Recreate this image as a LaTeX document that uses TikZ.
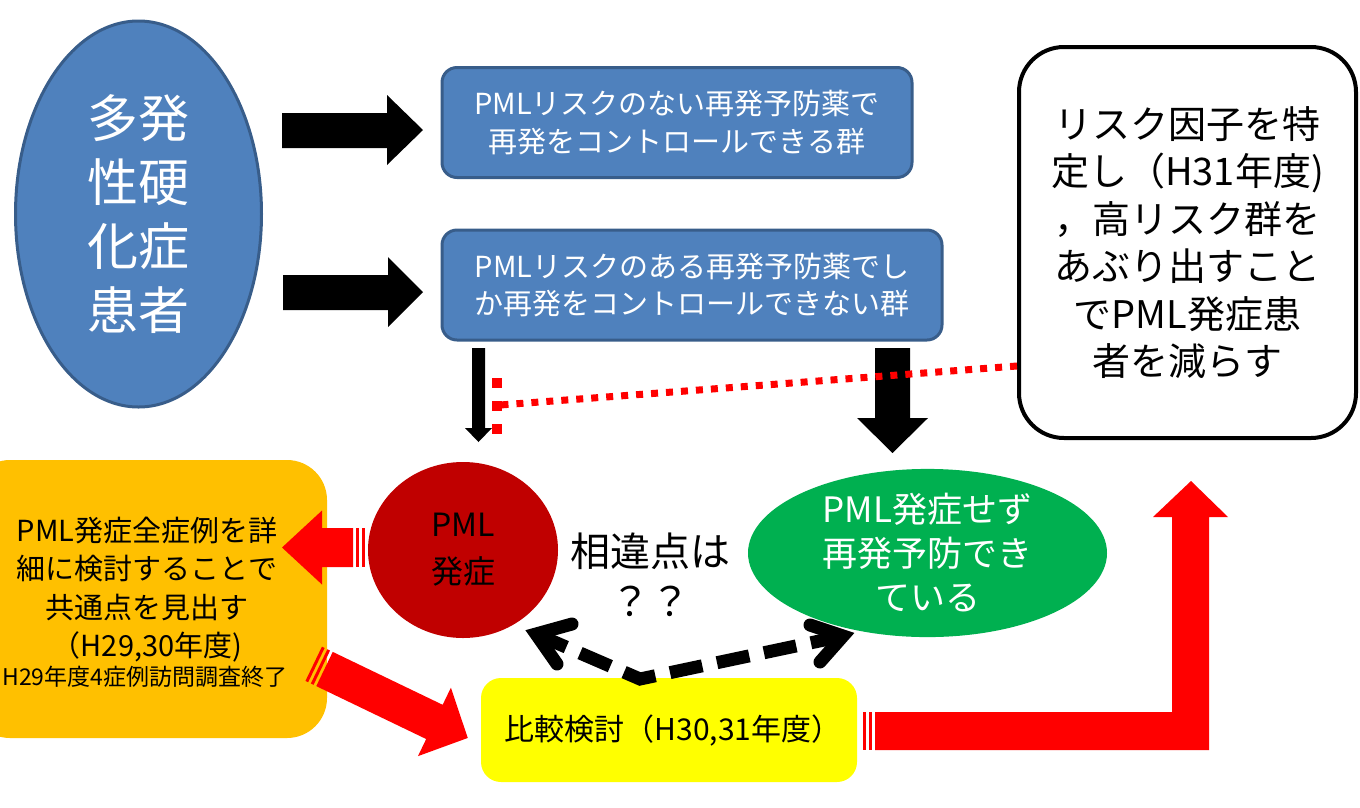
\documentclass[tikz,border=0pt]{standalone}
\usepackage{fontspec}
\setmainfont{Noto Sans CJK JP}
\usetikzlibrary{shapes.geometric}
\definecolor{msblue}{HTML}{4F81BD}
\definecolor{msborder}{HTML}{385D8A}
\definecolor{pmlred}{HTML}{C00000}
\definecolor{okgreen}{HTML}{00B050}
\definecolor{orng}{HTML}{FFC000}
\definecolor{yel}{HTML}{FFFF00}
\definecolor{brightred}{HTML}{FF0000}
\newcommand\fs[2]{\fontsize{#1}{#2}\selectfont}
% striped block arrow in local coords: tail at (0,0), tip at (L,0)
\newcommand\stripedarrow[4]{%
  \fill[brightred] (0,-#2) -- ({#1-#4},-#2) -- ({#1-#4},-#3) -- (#1,0) -- ({#1-#4},#3) -- ({#1-#4},#2) -- (0,#2) -- cycle;
  \fill[brightred] (-6,-#2) rectangle (-3,#2);
  \fill[brightred] (-12,-#2) rectangle (-9,#2);}
\begin{document}
\begin{tikzpicture}[x=1pt,y=-1pt,
  txt/.style={inner sep=0pt, align=center},
  bluebox/.style={draw=msborder, line width=3pt, fill=msblue, rounded corners=15pt, text=white, inner sep=0pt, align=center, font=\fs{29}{37.5}},
  barb/.style={line width=13pt, line cap=round, line join=miter},
]
\useasboundingbox (0,0) rectangle (1360,807);
\clip (0,0) rectangle (1360,807);

% left ellipse
\node[ellipse, draw=msborder, line width=3pt, fill=msblue, minimum width=246pt, minimum height=386pt, inner sep=0pt, text=white, align=center, font=\fs{51}{64}] (ms) at (138.5,214) {多発\\性硬\\化症\\患者};

% blue boxes
\node[bluebox, minimum width=470pt, minimum height=110pt] (b1) at (677,122.5) {PMLリスクのない再発予防薬で\\再発をコントロールできる群};
\node[bluebox, minimum width=500pt, minimum height=110pt] (b2) at (692,285) {PMLリスクのある再発予防薬でし\\か再発をコントロールできない群};

% black block arrows
\fill[black] (282,113) -- (387,113) -- (387,95) -- (423,130) -- (387,165) -- (387,148) -- (282,148) -- cycle;
\fill[black] (283,275) -- (388,275) -- (388,257) -- (423,292) -- (388,327) -- (388,310) -- (283,310) -- cycle;
\fill[black] (472,348) -- (485,348) -- (485,428) -- (492,428) -- (478.5,442) -- (465,428) -- (472,428) -- cycle;
\fill[black] (875,348) -- (910,348) -- (910,418) -- (928,418) -- (892.5,453) -- (857,418) -- (875,418) -- cycle;

% right white box
\node[draw=black, line width=4pt, fill=white, rounded corners=45pt, minimum width=337pt, minimum height=391pt, inner sep=0pt, align=center, font=\fs{38}{47.5}] (risk) at (1187.5,242.5) {リスク因子を特\\定し（H31年度)\\，高リスク群を\\あぶり出すこと\\でPML発症患\\者を減らす};

% red dotted line with tee
\coordinate (dotR) at (1017,366);
\coordinate (dotL) at (500,405);
\draw[brightred, line width=7pt, dash pattern=on 7pt off 8pt] (dotR) -- (dotL);
\coordinate (teeT) at (497,378);
\coordinate (teeB) at (497,436);
\draw[brightred, line width=10pt, dash pattern=on 10pt off 13pt] (teeT) -- (teeB);

% PML circle
\node[ellipse, fill=pmlred, minimum width=190pt, minimum height=176pt, inner sep=0pt, align=center, font=\fs{32}{47}] (pml) at (463,550) {PML\\発症};

% question text
\node[txt, font=\fs{40}{50}] (diff) at (650,575) {相違点は\\？？};

% green ellipse
\node[ellipse, fill=okgreen, minimum width=359pt, minimum height=166pt, inner sep=0pt, text=white, align=center, font=\fs{35}{44}] (ok) at (927.5,553) {PML発症せず\\再発予防でき\\ている};

% orange box
\node[fill=orng, rounded corners=40pt, minimum width=357pt, minimum height=278pt, inner sep=0pt] (detail) at (148.5,599) {};
\node[txt, font=\fs{29}{38.3}] (detailtext) at (147,589.5) {PML発症全症例を詳\\細に検討することで\\共通点を見出す\\（H29,30年度)};
\node[txt, font=\fs{23}{26}] (visit) at (145,677) {H29年度4症例訪問調査終了};

% yellow box
\node[fill=yel, rounded corners=20pt, minimum width=376pt, minimum height=104pt, inner sep=0pt] (comp) at (669,730) {};
\node[txt, font=\fs{30}{34}] (comptext) at (673,730) {比較検討（H30,31年度）};

% red striped arrows
\begin{scope}[shift={(353,547.5)}, rotate=180]
  \stripedarrow{71}{19.5}{37}{40}
\end{scope}
\begin{scope}[shift={(324.5,669)}, rotate=-25.7]
  \stripedarrow{159}{19}{38}{37}
\end{scope}
\fill[brightred] (875,712) -- (1172,712) -- (1172,517) -- (1153,517) -- (1191,481) -- (1228,517) -- (1209,517) -- (1209,750) -- (875,750) -- cycle;
\fill[brightred] (863,712) rectangle (866,750);
\fill[brightred] (869,712) rectangle (872,750);

% dashed double arrow
\coordinate (v) at (640,679);
\coordinate (lt) at (536,634);
\coordinate (rt) at (843,636);
\draw[line width=13pt, dash pattern=on 33pt off 15pt] (lt) -- (v) -- (rt);
\draw[barb] (572,624) -- (lt) -- (557,664);
\draw[barb] (810,625) -- (rt) -- (820,662);
\end{tikzpicture}
\end{document}
